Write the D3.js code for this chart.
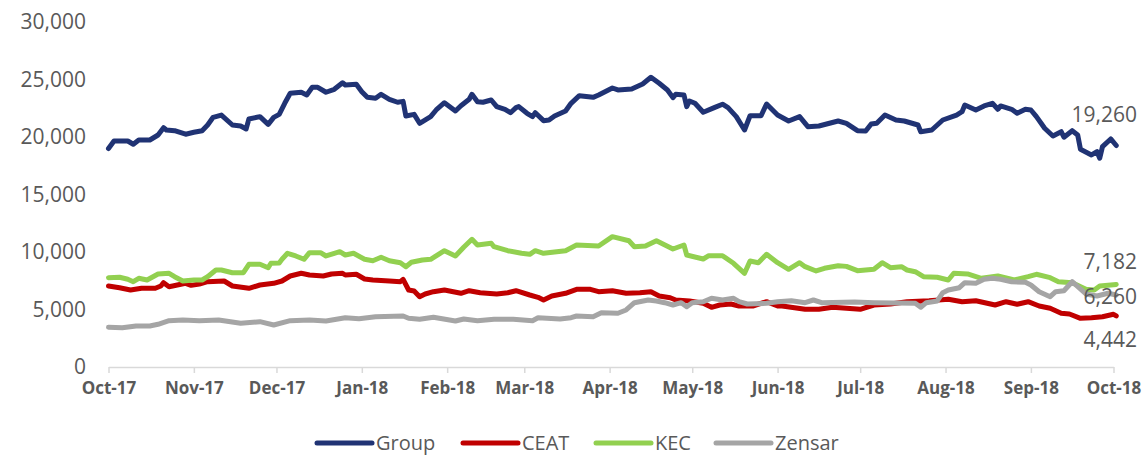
<!DOCTYPE html>
<html>
<head>
<meta charset="utf-8">
<script src="https://cdn.jsdelivr.net/npm/d3@7"></script>
<style>
  html, body { margin: 0; padding: 0; background: #fff; }
  svg { display: block; font-family: "Open Sans", sans-serif; }
</style>
</head>
<body>
<div id="chart"></div>
<script>
// series values: [date, value]
const group = [
  ["2017-10-01",19000],["2017-10-03",19650],["2017-10-08",19650],["2017-10-10",19370],["2017-10-12",19740],
  ["2017-10-16",19740],["2017-10-19",20175],["2017-10-21",20810],["2017-10-22",20610],["2017-10-25",20550],
  ["2017-10-29",20240],["2017-11-01",20410],["2017-11-04",20550],["2017-11-06",21045],["2017-11-08",21710],
  ["2017-11-11",21910],["2017-11-15",21045],["2017-11-18",20960],["2017-11-20",20700],["2017-11-21",21570],
  ["2017-11-25",21770],["2017-11-28",21100],["2017-11-30",21710],["2017-12-02",21970],["2017-12-04",22930],
  ["2017-12-06",23800],["2017-12-10",23890],["2017-12-12",23650],["2017-12-14",24320],["2017-12-16",24320],
  ["2017-12-19",23890],["2017-12-22",24150],["2017-12-25",24720],["2017-12-26",24520],["2017-12-30",24580],
  ["2018-01-01",23940],["2018-01-03",23450],["2018-01-06",23370],["2018-01-08",23710],["2018-01-11",23280],
  ["2018-01-14",23020],["2018-01-16",23100],["2018-01-17",21830],["2018-01-20",21970],["2018-01-22",21190],
  ["2018-01-26",21770],["2018-01-28",22350],["2018-01-31",22980],["2018-02-04",22260],["2018-02-06",22720],
  ["2018-02-09",23280],["2018-02-10",23710],["2018-02-12",23070],["2018-02-14",23020],["2018-02-17",23220],
  ["2018-02-19",22640],["2018-02-22",22410],["2018-02-24",22110],["2018-02-26",22550],["2018-02-27",22640],
  ["2018-03-02",22060],["2018-03-04",21770],["2018-03-05",22110],["2018-03-08",21420],["2018-03-10",21480],
  ["2018-03-12",21830],["2018-03-16",22260],["2018-03-18",22930],["2018-03-21",23590],["2018-03-26",23450],
  ["2018-03-28",23650],["2018-04-02",24260],["2018-04-04",24090],["2018-04-09",24180],["2018-04-13",24610],
  ["2018-04-16",25190],["2018-04-19",24670],["2018-04-22",24090],["2018-04-24",23420],["2018-04-25",23710],
  ["2018-04-28",23650],["2018-04-29",22640],["2018-04-30",23130],["2018-05-02",22930],["2018-05-05",22150],
  ["2018-05-09",22550],["2018-05-12",22850],["2018-05-14",22550],["2018-05-17",21770],["2018-05-20",20610],
  ["2018-05-22",21850],["2018-05-26",21850],["2018-05-28",22870],["2018-05-31",22150],["2018-06-01",21910],
  ["2018-06-05",21390],["2018-06-09",21770],["2018-06-12",20900],["2018-06-16",20960],["2018-06-23",21390],
  ["2018-06-26",21190],["2018-06-30",20550],["2018-07-03",20520],["2018-07-05",21130],["2018-07-07",21190],
  ["2018-07-10",21910],["2018-07-14",21480],["2018-07-17",21390],["2018-07-22",21045],["2018-07-23",20460],
  ["2018-07-27",20610],["2018-07-31",21480],["2018-08-05",21910],["2018-08-07",22200],["2018-08-08",22780],
  ["2018-08-12",22350],["2018-08-15",22700],["2018-08-18",22930],["2018-08-20",22410],["2018-08-21",22700],
  ["2018-08-25",22410],["2018-08-27",22060],["2018-08-30",22410],["2018-09-01",22350],["2018-09-03",21770],
  ["2018-09-06",20760],["2018-09-09",20090],["2018-09-12",20460],["2018-09-13",19980],["2018-09-16",20550],
  ["2018-09-18",20180],["2018-09-19",18930],["2018-09-23",18440],["2018-09-25",18720],["2018-09-26",18150],
  ["2018-09-27",19160],["2018-09-30",19830],["2018-10-02",19260]
];

const ceat = [
  ["2017-10-01",7044],["2017-10-05",6896],["2017-10-09",6696],["2017-10-13",6844],["2017-10-18",6844],
  ["2017-10-20",7044],["2017-10-21",7331],["2017-10-23",6983],["2017-10-26",7131],["2017-10-29",7279],
  ["2017-10-31",7100],["2017-11-03",7218],["2017-11-06",7418],["2017-11-12",7479],["2017-11-15",7044],
  ["2017-11-21",6844],["2017-11-25",7131],["2017-11-30",7279],["2017-12-03",7479],["2017-12-06",7913],
  ["2017-12-10",8149],["2017-12-13",8000],["2017-12-18",7913],["2017-12-21",8088],["2017-12-25",8149],
  ["2017-12-26",8000],["2017-12-30",8062],["2018-01-02",7653],["2018-01-05",7566],["2018-01-11",7479],
  ["2018-01-15",7418],["2018-01-16",7626],["2018-01-18",6696],["2018-01-20",6609],["2018-01-22",6113],
  ["2018-01-24",6348],["2018-01-27",6548],["2018-01-31",6696],["2018-02-06",6409],["2018-02-09",6635],
  ["2018-02-13",6461],["2018-02-19",6348],["2018-02-23",6461],["2018-02-26",6635],["2018-03-03",6261],
  ["2018-03-06",6061],["2018-03-08",5826],["2018-03-11",6174],["2018-03-16",6409],["2018-03-20",6757],
  ["2018-03-25",6757],["2018-03-28",6548],["2018-04-02",6635],["2018-04-07",6409],["2018-04-12",6461],
  ["2018-04-16",6548],["2018-04-19",6174],["2018-04-23",6026],["2018-04-25",5826],["2018-04-30",5740],
  ["2018-05-05",5540],["2018-05-08",5192],["2018-05-11",5392],["2018-05-15",5479],["2018-05-18",5305],
  ["2018-05-23",5305],["2018-05-28",5679],["2018-06-01",5305],["2018-06-02",5331],["2018-06-11",5018],
  ["2018-06-16",5018],["2018-06-21",5192],["2018-06-26",5100],["2018-07-01",5018],["2018-07-06",5392],
  ["2018-07-12",5479],["2018-07-18",5679],["2018-07-26",5766],["2018-08-02",5887],["2018-08-07",5679],
  ["2018-08-12",5766],["2018-08-19",5392],["2018-08-23",5679],["2018-08-27",5453],["2018-08-31",5679],
  ["2018-09-04",5305],["2018-09-08",5105],["2018-09-12",4670],["2018-09-15",4609],["2018-09-19",4235],
  ["2018-09-23",4287],["2018-09-27",4374],["2018-10-01",4583],["2018-10-02",4442]
];

const kec = [
  ["2017-10-01",7766],["2017-10-05",7800],["2017-10-08",7626],["2017-10-10",7418],["2017-10-12",7713],
  ["2017-10-15",7566],["2017-10-19",8088],["2017-10-23",8149],["2017-10-25",7853],["2017-10-28",7479],
  ["2017-11-01",7566],["2017-11-04",7566],["2017-11-06",7853],["2017-11-09",8435],["2017-11-11",8435],
  ["2017-11-15",8200],["2017-11-19",8200],["2017-11-21",8931],["2017-11-25",8931],["2017-11-28",8635],
  ["2017-11-29",9018],["2017-12-02",9050],["2017-12-03",9366],["2017-12-05",9887],["2017-12-08",9653],
  ["2017-12-11",9366],["2017-12-13",9940],["2017-12-17",9940],["2017-12-19",9653],["2017-12-22",9887],
  ["2017-12-24",10027],["2017-12-26",9740],["2017-12-29",9887],["2018-01-02",9366],["2018-01-05",9244],
  ["2018-01-08",9540],["2018-01-11",9244],["2018-01-15",9070],["2018-01-17",8722],["2018-01-19",9105],
  ["2018-01-23",9305],["2018-01-26",9366],["2018-01-31",10114],["2018-02-04",9653],["2018-02-07",10409],
  ["2018-02-10",11105],["2018-02-12",10609],["2018-02-17",10757],["2018-02-18",10461],["2018-02-23",10114],
  ["2018-02-28",9887],["2018-03-03",9800],["2018-03-05",10114],["2018-03-08",9887],["2018-03-16",10114],
  ["2018-03-20",10609],["2018-03-28",10522],["2018-04-02",11331],["2018-04-08",10983],["2018-04-10",10461],
  ["2018-04-14",10522],["2018-04-18",10983],["2018-04-24",10261],["2018-04-28",10609],["2018-04-29",9740],
  ["2018-05-05",9392],["2018-05-07",9679],["2018-05-12",9679],["2018-05-16",9018],["2018-05-20",8149],
  ["2018-05-22",9218],["2018-05-25",9070],["2018-05-28",9800],["2018-06-01",9070],["2018-06-05",8496],
  ["2018-06-09",9070],["2018-06-11",8722],["2018-06-15",8348],["2018-06-18",8583],["2018-06-23",8809],
  ["2018-06-26",8750],["2018-06-30",8374],["2018-07-06",8496],["2018-07-09",9070],["2018-07-12",8635],
  ["2018-07-16",8722],["2018-07-18",8435],["2018-07-21",8287],["2018-07-24",7853],["2018-07-29",7800],
  ["2018-08-02",7566],["2018-08-04",8149],["2018-08-09",8088],["2018-08-14",7713],["2018-08-20",7913],
  ["2018-08-26",7566],["2018-08-31",7853],["2018-09-03",8062],["2018-09-08",7766],["2018-09-11",7418],
  ["2018-09-16",7331],["2018-09-21",6757],["2018-09-24",6696],["2018-09-26",7044],["2018-10-02",7182]
];

const zensar = [
  ["2017-10-01",3452],["2017-10-06",3418],["2017-10-11",3566],["2017-10-16",3566],["2017-10-19",3713],
  ["2017-10-23",4027],["2017-10-28",4088],["2017-11-03",4027],["2017-11-10",4088],["2017-11-18",3800],
  ["2017-11-25",3940],["2017-11-30",3653],["2017-12-06",4027],["2017-12-13",4088],["2017-12-19",4000],
  ["2017-12-26",4287],["2017-12-31",4200],["2018-01-06",4374],["2018-01-16",4435],["2018-01-18",4235],
  ["2018-01-22",4148],["2018-01-27",4322],["2018-02-04",4000],["2018-02-07",4174],["2018-02-12",4027],
  ["2018-02-18",4148],["2018-02-25",4148],["2018-03-04",4027],["2018-03-06",4287],["2018-03-14",4174],
  ["2018-03-18",4287],["2018-03-20",4435],["2018-03-26",4374],["2018-03-29",4722],["2018-04-04",4670],
  ["2018-04-07",4957],["2018-04-10",5592],["2018-04-15",5826],["2018-04-18",5740],["2018-04-21",5592],
  ["2018-04-24",5392],["2018-04-27",5592],["2018-04-29",5244],["2018-05-01",5592],["2018-05-05",5679],
  ["2018-05-08",5974],["2018-05-12",5826],["2018-05-16",5974],["2018-05-18",5679],["2018-05-21",5479],
  ["2018-05-28",5540],["2018-06-01",5679],["2018-06-06",5766],["2018-06-11",5592],["2018-06-14",5826],
  ["2018-06-17",5592],["2018-06-29",5653],["2018-07-06",5592],["2018-07-21",5540],["2018-07-23",5192],
  ["2018-07-25",5592],["2018-07-29",5740],["2018-07-31",6461],["2018-08-02",6696],["2018-08-06",6896],
  ["2018-08-08",7331],["2018-08-12",7279],["2018-08-15",7626],["2018-08-18",7713],["2018-08-21",7626],
  ["2018-08-25",7418],["2018-08-30",7366],["2018-09-01",7131],["2018-09-04",6548],["2018-09-08",6113],
  ["2018-09-10",6548],["2018-09-13",6635],["2018-09-16",7418],["2018-09-21",6348],["2018-09-25",6174],
  ["2018-09-29",6409],["2018-10-02",6260]
];

const seriesNames  = ["Group", "CEAT", "KEC", "Zensar"];
const seriesData   = [group, ceat, kec, zensar];
const seriesColors = ["#203374", "#C00000", "#92D050", "#A5A5A5"];
const endLabels    = ["19,260", "4,442", "7,182", "6,260"];
const endLabelDy   = [-31, 24, -23, 2];   // label offset from last point
const yTicks       = [0, 5000, 10000, 15000, 20000, 25000, 30000];

const W = 1147, H = 457;
const parse = d3.timeParse("%Y-%m-%d");

const svg = d3.select("#chart").append("svg")
  .attr("width", W).attr("height", H);

const x = d3.scaleTime()
  .domain([new Date(2017, 9, 1), new Date(2018, 9, 1)])
  .range([108.5, 1113.5]);

const y = d3.scaleLinear()
  .domain([0, 30000])
  .range([367, 22]);

// y axis: labels only
const yAxis = svg.append("g")
  .attr("transform", "translate(86,0)")
  .call(d3.axisLeft(y).tickValues(yTicks).tickSize(0).tickPadding(0).tickFormat(d3.format(",")));
yAxis.select(".domain").remove();
yAxis.selectAll("text")
  .attr("fill", "#595959")
  .style("font-size", "21px")
  .style("font-family", "'Open Sans', sans-serif");

// x axis
const xAxis = svg.append("g")
  .attr("transform", `translate(0,${y(0)})`)
  .call(d3.axisBottom(x)
    .ticks(d3.timeMonth.every(1))
    .tickSizeInner(6).tickSizeOuter(0).tickPadding(9)
    .tickFormat(d3.timeFormat("%b-%y")));
xAxis.select(".domain").attr("stroke", "#D9D9D9").attr("stroke-width", 1.5);
xAxis.selectAll(".tick line").attr("stroke", "#D9D9D9").attr("stroke-width", 1.5);
xAxis.selectAll("text")
  .attr("fill", "#595959")
  .style("font-size", "17px")
  .style("font-weight", 700)
  .style("font-family", "'Open Sans', sans-serif");

const line = d3.line()
  .x(d => x(parse(d[0])))
  .y(d => y(d[1]));

const linesG = svg.append("g");
seriesData.forEach((s, i) => {
  linesG.append("path")
    .datum(s)
    .attr("fill", "none")
    .attr("stroke", seriesColors[i])
    .attr("stroke-width", 5)
    .attr("stroke-linejoin", "round")
    .attr("stroke-linecap", "round")
    .attr("d", line);
});

// end value labels
seriesData.forEach((s, i) => {
  const last = s[s.length - 1];
  svg.append("text")
    .attr("x", 1137)
    .attr("y", y(last[1]) + endLabelDy[i])
    .attr("dy", "0.35em")
    .attr("text-anchor", "end")
    .attr("fill", "#595959")
    .style("font-size", "21px")
    .text(endLabels[i]);
});

// legend
const legendX = [317, 463, 596, 716];
const legend = svg.append("g").attr("transform", "translate(0,443)");
seriesNames.forEach((name, i) => {
  const lg = legend.append("g").attr("transform", `translate(${legendX[i]},0)`);
  lg.append("line")
    .attr("x1", 0).attr("x2", 55).attr("y1", 0).attr("y2", 0)
    .attr("stroke", seriesColors[i])
    .attr("stroke-width", 5)
    .attr("stroke-linecap", "round");
  lg.append("text")
    .attr("x", 59).attr("y", 0).attr("dy", "0.35em")
    .attr("fill", "#595959")
    .style("font-size", "20px")
    .text(name);
});
</script>
</body>
</html>
